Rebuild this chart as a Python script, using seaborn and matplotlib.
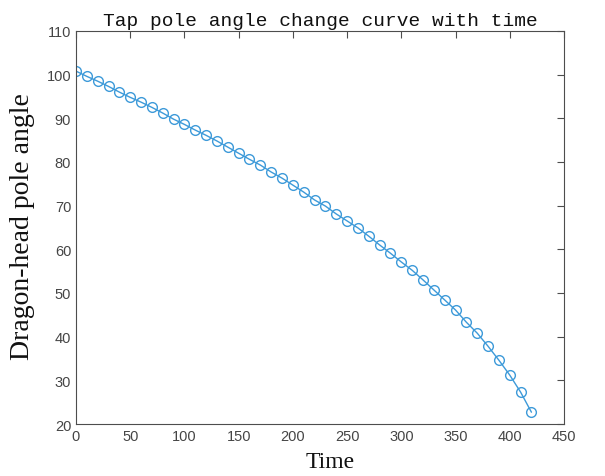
import numpy as np
import pandas as pd
import matplotlib
matplotlib.use("Agg")
import matplotlib.pyplot as plt
import seaborn as sns

# ── Data ──────────────────────────────────────────────────────────────────
time = list(range(0, 430, 10))
angle = [100.8, 99.6, 98.5, 97.3, 96.0, 94.8, 93.7, 92.5, 91.2, 89.8,
         88.6, 87.3, 86.1, 84.8, 83.4, 82.0, 80.6, 79.3, 77.7, 76.3,
         74.7, 73.1, 71.3, 69.9, 68.1, 66.5, 64.9, 63.0, 61.0, 59.1,
         57.1, 55.2, 53.0, 50.7, 48.4, 46.1, 43.3, 40.8, 37.8, 34.6,
         31.2, 27.3, 22.7]
x_ticks = [0, 50, 100, 150, 200, 250, 300, 350, 400, 450]
y_ticks = [20, 30, 40, 50, 60, 70, 80, 90, 100, 110]

df = pd.DataFrame({"Time": time, "Angle": angle})

sns.set_style("white")
plt.rcParams["font.family"] = ["Liberation Sans", "DejaVu Sans"]

LINE_C = "#3d9ad9"
AX_C = "#4d4d4d"
TXT_C = "#454545"

fig = plt.figure(figsize=(6.05, 4.77), dpi=100)
ax = fig.add_axes([0.1256, 0.109, 0.8066, 0.824])

sns.lineplot(data=df, x="Time", y="Angle", ax=ax, color=LINE_C, linewidth=1.0,
             marker="o", markersize=7, markerfacecolor="none",
             markeredgecolor=LINE_C, markeredgewidth=1.0)

ax.set_xlim(0, 450)
ax.set_ylim(20, 110)
ax.set_xticks(x_ticks)
ax.set_yticks(y_ticks)
ax.tick_params(direction="in", length=5, width=0.8, colors=AX_C,
               labelcolor=TXT_C, labelsize=10.5, top=True, right=True)
for s in ax.spines.values():
    s.set_visible(True)
    s.set_color(AX_C)
    s.set_linewidth(0.8)

mono = ["Liberation Mono", "DejaVu Sans Mono"]
serif = ["Liberation Serif", "DejaVu Serif"]
ax.set_title("Tap pole angle change curve with time", family=mono,
             fontsize=14, color="#111111", pad=4.5)
ax.set_xlabel("Time", family=serif, fontsize=17, color="#111111")
ax.set_ylabel("Dragon-head pole angle", family=serif, fontsize=20,
              color="#111111")
ax.xaxis.set_label_coords(0.52, -0.068)
ax.yaxis.set_label_coords(-0.084, 0.504)

fig.savefig("out.png", dpi=100)
plt.close(fig)
